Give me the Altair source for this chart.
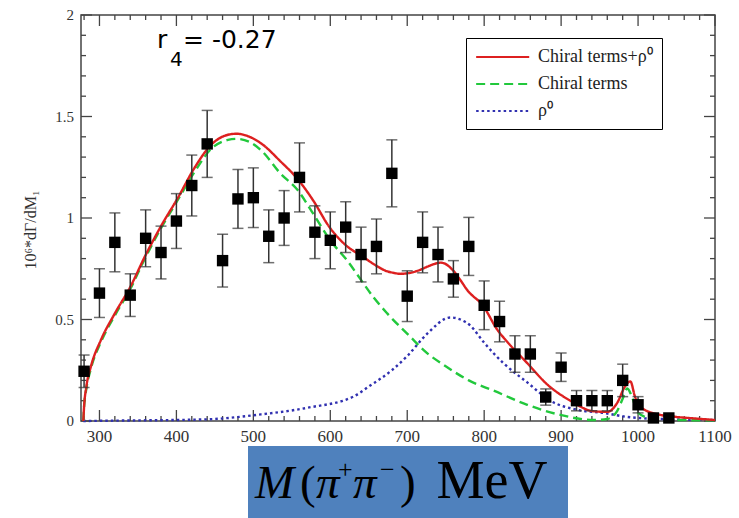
import altair as alt
import pandas as pd

# ---------------- data ----------------
mass = [280, 300, 320, 340, 360, 380, 400, 420, 440, 460, 480, 500, 520, 540, 560,
        580, 600, 620, 640, 660, 680, 700, 720, 740, 760, 780, 800, 820, 840, 860,
        880, 900, 920, 940, 960, 980, 1000, 1020, 1040]
rate = [0.245, 0.63, 0.88, 0.62, 0.90, 0.83, 0.985, 1.16, 1.365, 0.79, 1.094, 1.10, 0.91, 1.00, 1.20,
        0.93, 0.89, 0.955, 0.82, 0.86, 1.22, 0.615, 0.88, 0.82, 0.70, 0.86, 0.57, 0.49, 0.33, 0.33,
        0.118, 0.265, 0.10, 0.10, 0.10, 0.20, 0.08, 0.015, 0.015]
err = [0.08, 0.12, 0.145, 0.105, 0.14, 0.13, 0.135, 0.15, 0.165, 0.13, 0.145, 0.147, 0.13, 0.135, 0.17,
       0.13, 0.14, 0.125, 0.135, 0.135, 0.165, 0.125, 0.15, 0.135, 0.09, 0.143, 0.12, 0.10, 0.09, 0.09,
       0.04, 0.07, 0.05, 0.05, 0.05, 0.08, 0.04, 0.01, 0.01]

red_x = [279, 280, 283, 289, 302, 320, 340, 359, 380, 402, 424, 445, 467, 478, 495, 511, 535, 558,
         578, 598, 622, 640, 662, 672, 682, 691, 704, 717, 726, 744, 760, 768, 778, 799, 817, 830,
         856, 882, 912, 942, 960, 973, 983, 990, 996, 1005, 1029, 1050, 1072, 1100]
red_y = [0.0, 0.07, 0.17, 0.27, 0.40, 0.53, 0.66, 0.81, 0.96, 1.10, 1.25, 1.36, 1.41, 1.415, 1.40, 1.365, 1.28, 1.19,
         1.085, 0.96, 0.86, 0.815, 0.76, 0.74, 0.73, 0.725, 0.73, 0.745, 0.76, 0.78, 0.74, 0.70, 0.645, 0.565, 0.45, 0.39,
         0.285, 0.18, 0.10, 0.048, 0.045, 0.09, 0.17, 0.195, 0.12, 0.064, 0.03, 0.02, 0.013, 0.005]

green_x = [279, 280, 283, 289, 302, 320, 340, 359, 380, 402, 424, 445, 467, 478, 495, 511, 535, 557,
           578, 600, 622, 639, 656, 674, 708, 721, 750, 780, 812, 856, 899, 942, 960, 973, 980,
           986, 992, 1000, 1020, 1050, 1100]
green_y = [0.0, 0.07, 0.16, 0.26, 0.39, 0.52, 0.65, 0.80, 0.95, 1.09, 1.23, 1.34, 1.385, 1.39, 1.375, 1.33, 1.22, 1.14,
           1.02, 0.89, 0.79, 0.70, 0.61, 0.53, 0.40, 0.35, 0.27, 0.20, 0.15, 0.08, 0.03, 0.005, 0.01, 0.05, 0.11,
           0.16, 0.12, 0.04, 0.01, 0.005, 0.003]

blue_x = [279, 350, 400, 450, 504, 570, 630, 650, 680, 700, 726, 756, 769, 782, 799, 825, 856, 886,
          921, 955, 986, 1029, 1100]
blue_y = [0.0, 0.003, 0.005, 0.01, 0.03, 0.065, 0.12, 0.17, 0.25, 0.32, 0.43, 0.51, 0.50, 0.47, 0.39, 0.285, 0.19, 0.10,
          0.055, 0.04, 0.02, 0.01, 0.005]

series_names = ["Chiral terms+ρ⁰", "Chiral terms", "ρ⁰"]
series_colors = ["#dd2020", "#22c83c", "#3030b0"]
series_dash = [[1, 0], [9, 5], [2.5, 3]]

x_major = [300, 400, 500, 600, 700, 800, 900, 1000, 1100]
x_minor = [v for v in range(280, 1100, 20) if v % 100 != 0]
y_major = [0, 0.5, 1, 1.5, 2]
y_major_labels = ["0", "0.5", "1", "1.5", "2"]
y_minor = [round(v * 0.1, 1) for v in range(1, 20) if v % 5 != 0]

r_title = ["r", "4", "= -0.27"]
y_title = "10⁶*dΓ/dM₁"
x_title_parts = ["M", "(", "π", "+", "π", "−", ")", "MeV"]

# ---------------- layout ----------------
W, H = 634, 406
FRAME = "#444444"
LABEL = "#333333"
SERIF = "Liberation Serif"
xscale = alt.Scale(domain=[276, 1100], nice=False, zero=False)
yscale = alt.Scale(domain=[0, 2], nice=False)

pts = pd.DataFrame({"mass": mass, "rate": rate, "err": err})
pts["lo"] = pts["rate"] - pts["err"]
pts["hi"] = pts["rate"] + pts["err"]

curves = []
for name, xs, ys in [(series_names[2], blue_x, blue_y),
                     (series_names[1], green_x, green_y),
                     (series_names[0], red_x, red_y)]:
    curves.append(pd.DataFrame({"m": xs, "v": ys, "series": name}))

leg = alt.Legend(title=None, orient="none", legendX=385, legendY=23)
color_enc = alt.Color("series:N", scale=alt.Scale(domain=series_names, range=series_colors), legend=leg)
dash_enc = alt.StrokeDash("series:N", scale=alt.Scale(domain=series_names, range=series_dash), legend=leg)

line_layers = [
    alt.Chart(df).mark_line(strokeWidth=2.4, interpolate="monotone").encode(
        x=alt.X("m:Q", scale=xscale, axis=None),
        y=alt.Y("v:Q", scale=yscale, axis=None),
        color=color_enc,
        strokeDash=dash_enc,
        order=alt.Order("m:Q"),
    )
    for df in curves
]

bars = alt.Chart(pts).mark_rule(color="#333333", strokeWidth=1.5).encode(
    x=alt.X("mass:Q", scale=xscale, axis=None),
    y=alt.Y("lo:Q", scale=yscale, axis=None),
    y2="hi:Q",
)
cap_lo = alt.Chart(pts).mark_tick(orient="horizontal", size=11, thickness=1.5, color="#333333").encode(
    x=alt.X("mass:Q", scale=xscale, axis=None),
    y=alt.Y("lo:Q", scale=yscale, axis=None),
)
cap_hi = alt.Chart(pts).mark_tick(orient="horizontal", size=11, thickness=1.5, color="#333333").encode(
    x=alt.X("mass:Q", scale=xscale, axis=None),
    y=alt.Y("hi:Q", scale=yscale, axis=None),
)
squares = alt.Chart(pts).mark_square(size=130, color="black", opacity=1).encode(
    x=alt.X("mass:Q", scale=xscale, axis=None),
    y=alt.Y("rate:Q", scale=yscale, axis=None),
)

# inward ticks on all four sides + tick labels
xmaj = pd.DataFrame({"t": x_major, "lab": [str(v) for v in x_major]})
xmin = pd.DataFrame({"t": x_minor})
ymaj = pd.DataFrame({"t": y_major, "lab": y_major_labels})
ymin = pd.DataFrame({"t": y_minor})


def xticks(df, length):
    b = alt.Chart(df).mark_rule(color=FRAME, strokeWidth=1.3).encode(
        x=alt.X("t:Q", scale=xscale, axis=None), y=alt.value(H), y2=alt.value(H - length))
    t = alt.Chart(df).mark_rule(color=FRAME, strokeWidth=1.3).encode(
        x=alt.X("t:Q", scale=xscale, axis=None), y=alt.value(0), y2=alt.value(length))
    return [b, t]


def yticks(df, length):
    l = alt.Chart(df).mark_rule(color=FRAME, strokeWidth=1.3).encode(
        y=alt.Y("t:Q", scale=yscale, axis=None), x=alt.value(0), x2=alt.value(length))
    r = alt.Chart(df).mark_rule(color=FRAME, strokeWidth=1.3).encode(
        y=alt.Y("t:Q", scale=yscale, axis=None), x=alt.value(W), x2=alt.value(W - length))
    return [l, r]


tick_layers = xticks(xmaj, 11) + xticks(xmin, 5) + yticks(ymaj, 11) + yticks(ymin, 5)

xlabels = alt.Chart(xmaj).mark_text(font=SERIF, fontSize=17, color=LABEL, baseline="middle",
                                    align="center").encode(
    x=alt.X("t:Q", scale=xscale, axis=None), y=alt.value(H + 16), text="lab:N")
ylabels = alt.Chart(ymaj).mark_text(font=SERIF, fontSize=15, color=LABEL, baseline="middle",
                                    align="right").encode(
    y=alt.Y("t:Q", scale=yscale, axis=None), x=alt.value(-7), text="lab:N")

one = pd.DataFrame({"a": [0]})


def label(text, x, y, size, font=SERIF, style="normal", color="black", align="left",
          baseline="alphabetic", angle=0):
    return alt.Chart(one).mark_text(text=text, font=font, fontSize=size, fontStyle=style,
                                    color=color, align=align, baseline=baseline, angle=angle).encode(
        x=alt.value(x), y=alt.value(y))


ytitle = label(y_title, -50, H / 2 + 12, 16, color=LABEL, align="center", baseline="middle", angle=270)

annot = [
    label(r_title[0], 76, 33, 25, font="DejaVu Sans"),
    label(r_title[1], 89, 51, 20, font="DejaVu Sans"),
    label(r_title[2], 102, 33, 25, font="DejaVu Sans"),
]

box = alt.Chart(one).mark_rect(color="#4f81bd").encode(
    x=alt.value(167), x2=alt.value(487), y=alt.value(431), y2=alt.value(510))

xt = [
    label(x_title_parts[0], 174, 483, 47, style="italic"),
    label(x_title_parts[1], 219, 483, 47),
    label(x_title_parts[2], 235, 483, 47, style="italic"),
    label(x_title_parts[3], 257, 463, 26),
    label(x_title_parts[4], 272, 483, 47, style="italic"),
    label(x_title_parts[5], 299, 463, 26),
    label(x_title_parts[6], 319, 483, 47),
    label(x_title_parts[7], 411, 483, 54, align="center"),
]

chart = alt.layer(*tick_layers, *line_layers, bars, cap_lo, cap_hi, squares,
                  xlabels, ylabels, ytitle, *annot, box, *xt).properties(
    width=W, height=H,
    padding={"left": 81, "top": 15, "right": 24, "bottom": 97},
    autosize=alt.AutoSizeParams(type="none"),
    background="white",
).configure_view(stroke=FRAME, strokeWidth=1.5).configure_legend(
    strokeColor="black", fillColor="white",
    padding=9, rowPadding=8, labelFont=SERIF, labelFontSize=18, labelColor="#222222",
    symbolType="M-1,0L5,0", symbolSize=313, symbolStrokeWidth=2.2, labelOffset=43,
)

chart.save("out.html", embed_options={"renderer": "svg", "actions": False})
